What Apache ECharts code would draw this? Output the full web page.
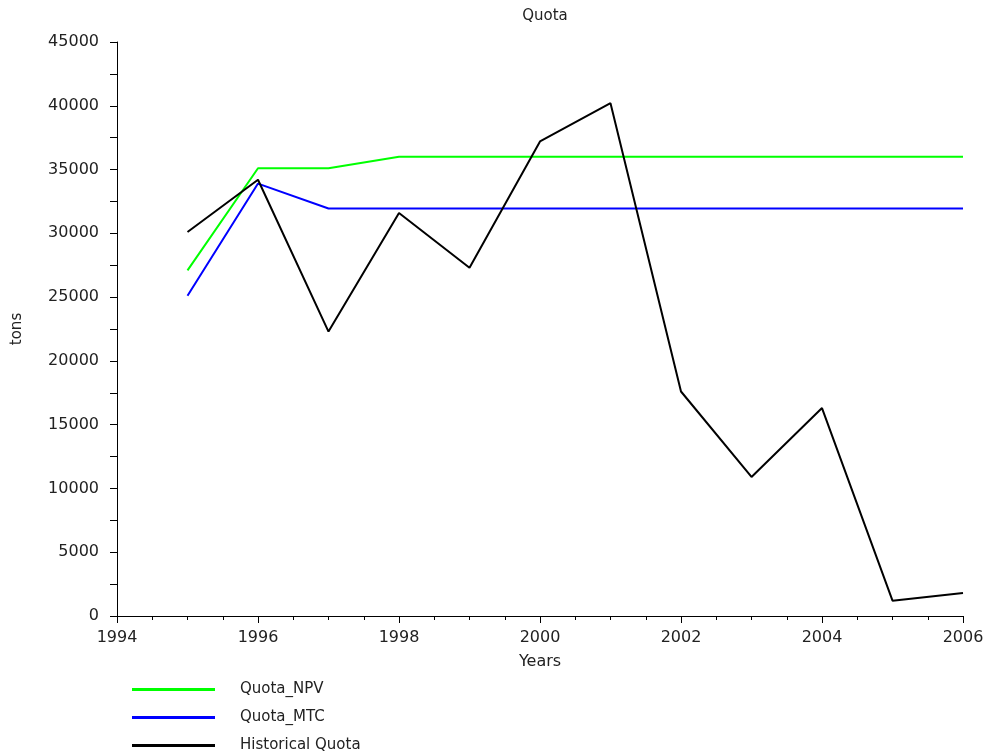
<!DOCTYPE html>
<html>
<head>
<meta charset="utf-8">
<script src="https://cdn.jsdelivr.net/npm/echarts@6/dist/echarts.min.js"></script>
<style>
  html, body { margin: 0; padding: 0; background: #fff; }
  #chart { width: 984px; height: 752px; }
</style>
</head>
<body>
<div id="chart"></div>
<script>
var years = [1995, 1996, 1997, 1998, 1999, 2000, 2001, 2002, 2003, 2004, 2005, 2006];
var quotaNPV = [27100, 35100, 35100, 36000, 36000, 36000, 36000, 36000, 36000, 36000, 36000, 36000];
var quotaMTC = [25100, 33900, 31950, 31950, 31950, 31950, 31950, 31950, 31950, 31950, 31950, 31950];
var historical = [30100, 34200, 22300, 31600, 27300, 37200, 40200, 17600, 10900, 16300, 1200, 1800];
var seriesNames = ['Quota_NPV', 'Quota_MTC', 'Historical Quota'];

function pairs(vals) {
    return years.map(function (y, i) { return [y, vals[i]]; });
}

var font = 'DejaVu Sans';
var myChart = echarts.init(document.getElementById('chart'));

function lineSeries(name, vals, color) {
    return {
        name: name,
        type: 'line',
        data: pairs(vals),
        symbol: 'none',
        lineStyle: { color: color, width: 2 },
        itemStyle: { color: color },
        animation: false
    };
}

var option = {
    backgroundColor: '#fff',
    title: {
        text: 'Quota',
        left: 540,
        textAlign: 'center',
        top: 4,
        textStyle: { fontFamily: font, fontSize: 15, fontWeight: 'normal', color: '#222' }
    },
    grid: { left: 117, right: 21, top: 42, bottom: 136, outerBoundsMode: 'none' },
    legend: {
        orient: 'vertical',
        left: 127,
        top: 677,
        height: 90,
        icon: 'rect',
        itemWidth: 83,
        itemHeight: 3,
        itemGap: 13,
        textStyle: { fontFamily: font, fontSize: 15, color: '#222', padding: [0, 0, 0, 20], lineHeight: 15 },
        data: seriesNames
    },
    xAxis: {
        type: 'value',
        min: 1994,
        max: 2006,
        interval: 2,
        name: 'Years',
        nameLocation: 'middle',
        nameGap: 38,
        nameTextStyle: { fontFamily: font, fontSize: 16, color: '#222' },
        axisLine: { lineStyle: { color: '#000', width: 1 } },
        axisTick: { length: 7, lineStyle: { color: '#000' } },
        minorTick: { show: true, splitNumber: 4, length: 4, lineStyle: { color: '#000' } },
        splitLine: { show: false },
        axisLabel: { fontFamily: font, fontSize: 16, color: '#222', margin: 14, formatter: function (v) { return String(v); } }
    },
    yAxis: {
        type: 'value',
        min: 0,
        max: 45000,
        interval: 5000,
        name: 'tons',
        nameLocation: 'middle',
        nameGap: 92,
        nameTextStyle: { fontFamily: font, fontSize: 15, color: '#222' },
        axisLine: { show: true, lineStyle: { color: '#000', width: 1 } },
        axisTick: { show: true, length: 7, lineStyle: { color: '#000' } },
        minorTick: { show: true, splitNumber: 2, length: 7, lineStyle: { color: '#000' } },
        splitLine: { show: false },
        axisLabel: { fontFamily: font, fontSize: 16, color: '#222', margin: 18, formatter: function (v) { return String(v); } }
    },
    series: [
        lineSeries(seriesNames[0], quotaNPV, '#00ff00'),
        lineSeries(seriesNames[1], quotaMTC, '#0000ff'),
        lineSeries(seriesNames[2], historical, '#000000')
    ]
};

myChart.setOption(option, true);
</script>
</body>
</html>
